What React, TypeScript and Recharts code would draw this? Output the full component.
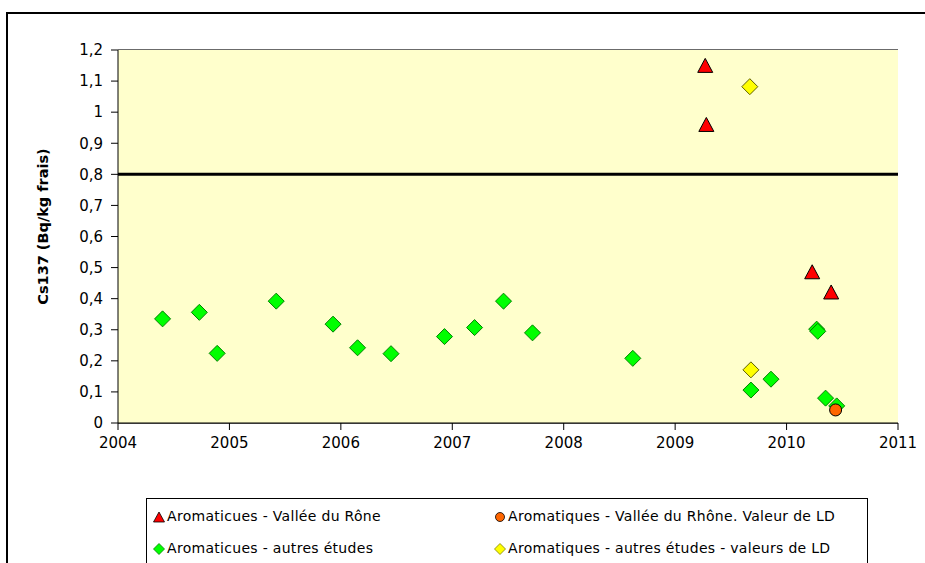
import React from 'react';
import {
  ScatterChart, Scatter, XAxis, YAxis, CartesianGrid, ReferenceLine, ReferenceArea,
} from 'recharts';

// Aromatiques - Vallée du Rhône (red triangles)
const redYears = [2009.27, 2009.28, 2010.23, 2010.40];
const redValues = [1.146, 0.956, 0.482, 0.417];

// Aromatiques - Vallée du Rhône, valeur de LD (orange circle)
const orangeYears = [2010.44];
const orangeValues = [0.042];

// Aromatiques - autres études (green diamonds)
const greenYears = [
  2004.40, 2004.73, 2004.89, 2005.42, 2005.93, 2006.15, 2006.45, 2006.93,
  2007.20, 2007.46, 2007.72, 2008.62, 2009.68, 2009.86, 2010.27, 2010.28,
  2010.35, 2010.45,
];
const greenValues = [
  0.335, 0.356, 0.224, 0.392, 0.318, 0.242, 0.223, 0.278,
  0.307, 0.392, 0.290, 0.208, 0.106, 0.141, 0.302, 0.295,
  0.080, 0.055,
];

// Aromatiques - autres études - valeurs de LD (yellow diamonds)
const yellowYears = [2009.67, 2009.68];
const yellowValues = [1.082, 0.171];

const xTicks = [2004, 2005, 2006, 2007, 2008, 2009, 2010, 2011];
const yTicks = [0, 0.1, 0.2, 0.3, 0.4, 0.5, 0.6, 0.7, 0.8, 0.9, 1, 1.1, 1.2];
const thresholdValue = 0.8;

const legendLabels = [
  'Aromaticues - Vallée du Rône',
  'Aromatiques - Vallée du Rhône. Valeur de LD',
  'Aromaticues - autres études',
  'Aromatiques - autres études - valeurs de LD',
];

const yTitle = 'Cs137 (Bq/kg frais)';

const toPoints = (xs: number[], ys: number[]) => xs.map((x, i) => ({ x, y: ys[i] }));

const FONT = '"DejaVu Sans", Verdana, sans-serif';

const Diamond = (fill: string, stroke: string) => (props: any) => {
  const { cx, cy } = props;
  if (cx == null || cy == null) return null;
  const r = 8;
  return (
    <path
      d={`M${cx},${cy - r} L${cx + r},${cy} L${cx},${cy + r} L${cx - r},${cy} Z`}
      fill={fill}
      stroke={stroke}
      strokeWidth={1}
    />
  );
};

const Triangle = (props: any) => {
  const { cx, cy } = props;
  if (cx == null || cy == null) return null;
  const h = 14;
  const w = 15;
  return (
    <path
      d={`M${cx},${cy - h * 0.6} L${cx + w / 2},${cy + h * 0.4} L${cx - w / 2},${cy + h * 0.4} Z`}
      fill="#FF0000"
      stroke="#000"
      strokeWidth={1}
    />
  );
};

const Circle = (props: any) => {
  const { cx, cy } = props;
  if (cx == null || cy == null) return null;
  return <circle cx={cx} cy={cy} r={6} fill="#FF6600" stroke="#000" strokeWidth={1} />;
};

const fmtY = (v: number) => (Math.round(v * 10) / 10).toString().replace('.', ',');

const YTitle = (props: any) => {
  const vb = props.viewBox || {};
  const x = 43;
  const y = (vb.y ?? 50) + (vb.height ?? 373) / 2 - 10;
  return (
    <text
      x={x}
      y={y}
      transform={`rotate(-90, ${x}, ${y})`}
      textAnchor="middle"
      dominantBaseline="central"
      fontFamily={FONT}
      fontSize={14.5}
      fontWeight="bold"
      fill="#000"
    >
      {yTitle}
    </text>
  );
};

const LegendMarker = ({ kind }: { kind: number }) => {
  const s = 12;
  let shape: React.ReactNode = null;
  if (kind === 0) shape = <path d="M6,1 L11.5,11 L0.5,11 Z" fill="#FF0000" stroke="#000" strokeWidth={0.8} />;
  if (kind === 1) shape = <circle cx={6} cy={6} r={4.5} fill="#FF6600" stroke="#000" strokeWidth={0.8} />;
  if (kind === 2) shape = <path d="M6,0.5 L11.5,6 L6,11.5 L0.5,6 Z" fill="#00FF00" stroke="#008000" strokeWidth={0.8} />;
  if (kind === 3) shape = <path d="M6,0.5 L11.5,6 L6,11.5 L0.5,6 Z" fill="#FFFF00" stroke="#808000" strokeWidth={0.8} />;
  return (
    <svg width={s} height={s} style={{ display: 'inline-block', verticalAlign: 'middle', marginRight: 2 }}>
      {shape}
    </svg>
  );
};

export default function App() {
  const legendPos = [
    { left: 153, top: 508 },
    { left: 494, top: 508 },
    { left: 153, top: 540 },
    { left: 494, top: 540 },
  ];
  return (
    <div style={{ position: 'absolute', left: 0, top: 0, width: 925, height: 563, overflow: 'hidden', background: '#fff' }}>
      <div style={{ position: 'absolute', left: 6, top: 12, width: 2, height: 560, background: '#000' }} />
      <div style={{ position: 'absolute', left: 6, top: 12, width: 930, height: 2, background: '#000' }} />
      <div style={{ position: 'absolute', left: 0, top: 0 }}>
        <ScatterChart width={925} height={563} margin={{ top: 50, right: 27, bottom: 110, left: 0 }}>
          <ReferenceArea x1={2004} x2={2011} y1={0} y2={1.2} fill="#FFFFCC" fillOpacity={1} stroke="none" />
          <CartesianGrid vertical={false} stroke="#3a3a3a" strokeWidth={1.5} />
          <XAxis
            type="number"
            dataKey="x"
            domain={[2004, 2011]}
            ticks={xTicks}
            interval={0}
            height={30}
            tickLine={{ stroke: '#000' }}
            axisLine={{ stroke: '#000' }}
            tickSize={7}
            tick={{ fill: '#000', fontSize: 15, fontFamily: FONT }}
            tickMargin={7}
          />
          <YAxis
            type="number"
            dataKey="y"
            domain={[0, 1.2]}
            ticks={yTicks}
            interval={0}
            width={118}
            tickFormatter={fmtY}
            tickLine={{ stroke: '#000' }}
            axisLine={{ stroke: '#000' }}
            tickSize={7}
            tick={{ fill: '#000', fontSize: 15, fontFamily: FONT }}
            tickMargin={8}
            label={<YTitle />}
          />
          <ReferenceLine y={thresholdValue} stroke="#000" strokeWidth={3} />
          <Scatter data={toPoints(greenYears, greenValues)} shape={Diamond('#00FF00', '#008000')} isAnimationActive={false} />
          <Scatter data={toPoints(yellowYears, yellowValues)} shape={Diamond('#FFFF00', '#606000')} isAnimationActive={false} />
          <Scatter data={toPoints(orangeYears, orangeValues)} shape={Circle} isAnimationActive={false} />
          <Scatter data={toPoints(redYears, redValues)} shape={Triangle} isAnimationActive={false} />
        </ScatterChart>
      </div>
      <div style={{ position: 'absolute', left: 146, top: 498, width: 722, height: 80, border: '1px solid #000', boxSizing: 'border-box', background: '#fff' }} />
      {legendLabels.map((t, i) => (
        <div
          key={i}
          style={{
            position: 'absolute',
            left: legendPos[i].left,
            top: legendPos[i].top,
            fontFamily: FONT,
            fontSize: 14,
            letterSpacing: 0.3,
            color: '#000',
            whiteSpace: 'nowrap',
            lineHeight: '16px',
          }}
        >
          <LegendMarker kind={i} />
          {t}
        </div>
      ))}
    </div>
  );
}
